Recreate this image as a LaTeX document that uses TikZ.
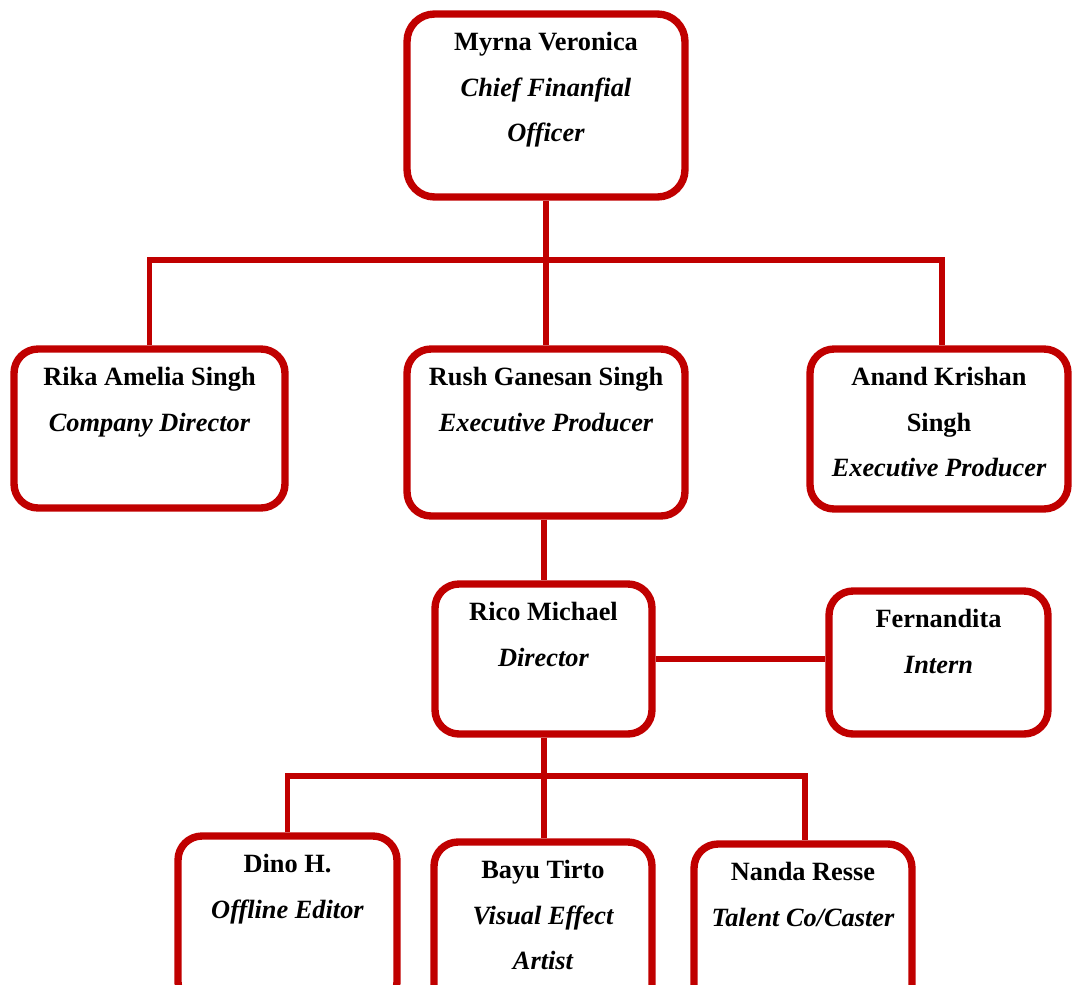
\documentclass[tikz,border=0pt]{standalone}
\usepackage{fontspec}
\setmainfont{Liberation Serif}
\usetikzlibrary{positioning}
\definecolor{darkred}{RGB}{192,0,0}
\tikzset{
  box/.style={draw=darkred, line width=4.2pt, rounded corners=0.48cm, inner sep=0pt},
  link/.style={draw=darkred, line width=3.1pt},
  txt/.style={align=center, inner sep=0pt, font=\fontsize{15}{26}\selectfont\bfseries},
}
\begin{document}
\begin{tikzpicture}[x=0.02cm, y=-0.02cm]
            \clip (0,0) rectangle (1075,984);
            \node[box, rounded corners=0.55cm, minimum width=5.56cm, minimum height=3.66cm](1) at (546,105.5) {};
            \node[box, minimum width=5.42cm, minimum height=3.18cm](2) at (149.5,428.5) {};
            \node[box, minimum width=5.56cm, minimum height=3.34cm](3) at (546,432.5) {};
            \node[box, minimum width=5.16cm, minimum height=3.2cm](4) at (939,429) {};
            \node[box, minimum width=4.34cm, minimum height=3cm](5) at (543.5,659) {};
            \node[box, minimum width=4.38cm, minimum height=2.86cm](6) at (938.5,662.5) {};
            \node[box, minimum width=4.38cm, minimum height=3.4cm](7) at (287.5,921) {};
            \node[box, minimum width=4.36cm, minimum height=3.4cm](8) at (543,927) {};
            \node[box, minimum width=4.36cm, minimum height=3.4cm](9) at (803,929) {};
            \node[txt, below=0.43cm of 1.north](t1) {Myrna Veronica\\ \itshape Chief Finanfial\\ \itshape Officer};
            \node[txt, below=0.43cm of 2.north](t2) {Rika Amelia Singh\\ \itshape Company Director};
            \node[txt, below=0.43cm of 3.north](t3) {Rush Ganesan Singh\\ \itshape Executive Producer};
            \node[txt, below=0.43cm of 4.north](t4) {Anand Krishan\\ Singh\\ \itshape Executive Producer};
            \node[txt, below=0.43cm of 5.north](t5) {Rico Michael\\ \itshape Director};
            \node[txt, below=0.43cm of 6.north](t6) {Fernandita\\ \itshape Intern};
            \node[txt, below=0.43cm of 7.north](t7) {Dino H.\\ \itshape Offline Editor};
            \node[txt, below=0.43cm of 8.north](t8) {Bayu Tirto\\ \itshape Visual Effect\\ \itshape Artist};
            \node[txt, below=0.43cm of 9.north](t9) {Nanda Resse\\ \itshape Talent Co/Caster};
            \coordinate(bus1) at (546,260);
            \coordinate(bus2) at (544,776);
            \draw[link] (1) -- (3);
            \draw[link] (2.north) -- (2.north |- bus1) -- ([xshift=0.06cm]4.north |- bus1) -- ([xshift=0.06cm]4.north);
            \draw[link] (bus2 |- 3.south) -- (bus2 |- 5.north);
            \draw[link] (5.east) -- (6.west |- 5.east);
            \draw[link] (bus2 |- 5.south) -- (bus2) -- (bus2 |- 8.north);
            \draw[link] (7.north) -- (7.north |- bus2) -- ([xshift=0.04cm]9.north |- bus2) -- ([xshift=0.04cm]9.north);
        \end{tikzpicture}
\end{document}
